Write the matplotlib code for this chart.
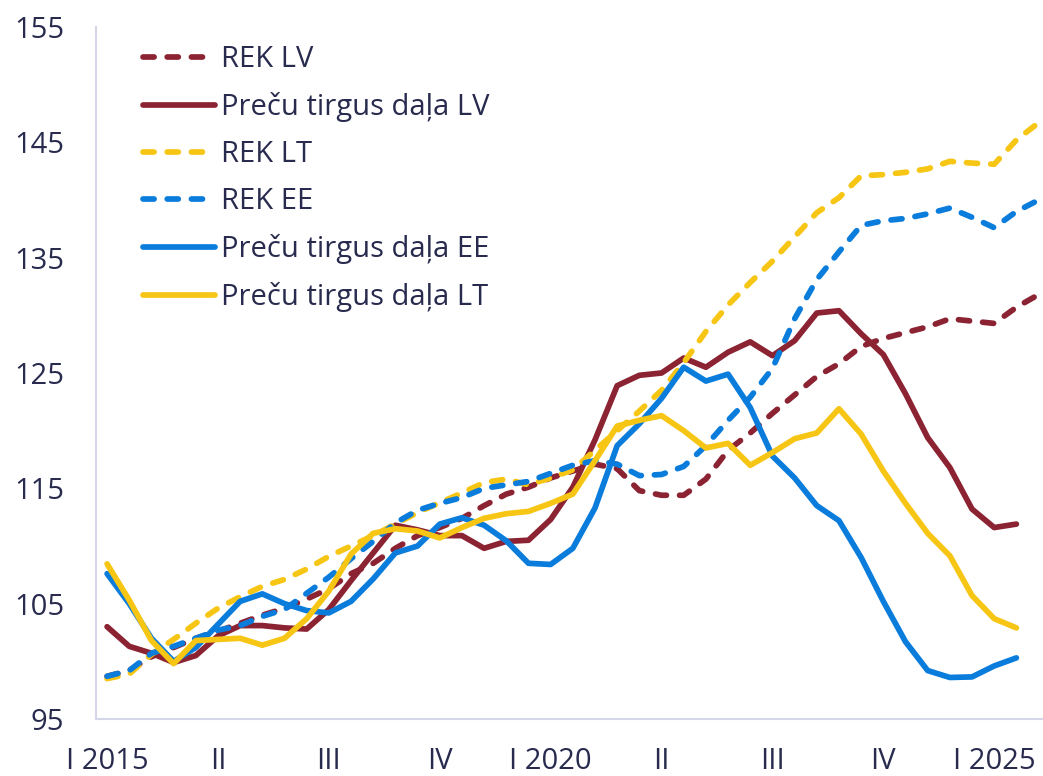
import numpy as np
import matplotlib
matplotlib.use("Agg")
import matplotlib.pyplot as plt

plt.rcParams['font.family'] = ['Open Sans', 'DejaVu Sans']

# ---- data (quarterly, from 2015 Q1) ----
rek_lv = [98.7, 99.2, 100.4, 101.2, 102.0, 102.6, 103.3, 104.0, 104.6, 105.4,
          106.3, 107.6, 108.5, 109.8, 110.9, 111.6, 112.4, 113.5, 114.5, 115.1,
          115.9, 116.5, 117.1, 116.7, 114.8, 114.4, 114.4, 115.8, 118.3, 119.8,
          121.5, 123.1, 124.7, 125.8, 127.3, 128.0, 128.5, 129.0, 129.7, 129.5,
          129.3, 130.7, 131.8]
precu_lv = [103.0, 101.3, 100.7, 99.9, 100.5, 102.2, 103.1, 103.1, 102.9, 102.8,
            104.5, 107.0, 109.4, 111.8, 111.4, 110.9, 110.9, 109.8, 110.4, 110.5,
            112.3, 115.1, 119.2, 123.9, 124.8, 125.0, 126.3, 125.5, 126.8, 127.7,
            126.5, 127.8, 130.2, 130.4, 128.4, 126.6, 123.2, 119.4, 116.8, 113.2,
            111.6, 111.9]
rek_lt = [98.5, 98.9, 100.6, 101.9, 103.3, 104.6, 105.6, 106.5, 107.1, 108.0,
          109.1, 110.0, 110.9, 111.9, 112.9, 113.75, 114.6, 115.5, 115.8, 115.3,
          115.9, 116.6, 118.3, 120.0, 121.7, 123.5, 125.9, 128.6, 130.9, 132.85,
          134.7, 136.8, 138.9, 140.2, 142.1, 142.2, 142.4, 142.7, 143.35, 143.2,
          143.1, 145.2, 146.7]
rek_ee = [98.7, 99.2, 100.7, 101.3, 102.0, 102.7, 103.1, 103.9, 104.5, 105.9,
          107.3, 108.9, 110.4, 112.0, 113.1, 113.7, 114.2, 115.0, 115.3, 115.6,
          116.3, 117.0, 117.4, 117.1, 116.1, 116.2, 116.9, 118.7, 120.9, 122.9,
          125.4, 129.7, 133.1, 135.5, 137.8, 138.2, 138.4, 138.8, 139.3, 138.5,
          137.6, 139.0, 140.0]
precu_ee = [107.6, 105.0, 102.0, 100.0, 101.2, 103.2, 105.2, 105.85, 105.0, 104.4,
            104.2, 105.2, 107.15, 109.4, 110.0, 111.9, 112.45, 111.8, 110.45, 108.5,
            108.4, 109.8, 113.3, 118.7, 120.6, 122.8, 125.5, 124.3, 124.9, 122.0,
            117.8, 115.9, 113.5, 112.2, 109.0, 105.2, 101.7, 99.2, 98.6, 98.65,
            99.6, 100.3]
precu_lt = [108.45, 105.3, 101.8, 99.8, 101.8, 101.9, 102.0, 101.4, 102.0, 103.7,
            106.1, 109.3, 111.1, 111.5, 111.3, 110.7, 111.6, 112.4, 112.8, 113.0,
            113.7, 114.5, 117.4, 120.4, 120.9, 121.3, 120.0, 118.5, 118.9, 117.0,
            118.1, 119.3, 119.8, 121.9, 119.7, 116.5, 113.7, 111.1, 109.15, 105.7,
            103.7, 102.9]

series_labels = ["REK LV", "Preču tirgus daļa LV", "REK LT", "REK EE",
                 "Preču tirgus daļa EE", "Preču tirgus daļa LT"]
x_tick_labels = ["I 2015", "II", "III", "IV", "I 2020", "II", "III", "IV", "I 2025"]
y_ticks = [95, 105, 115, 125, 135, 145, 155]

MAROON = '#8B2333'
YELLOW = '#F7C614'
BLUE = '#0A7CDB'
TEXT = '#282B4E'
SPINE = '#D6D6EA'

W, H = 1043, 776
fig = plt.figure(figsize=(W / 100, H / 100), dpi=100)
ax = fig.add_axes([96 / W, 57 / H, 947 / W, 692 / H])

lw = 4.1
dash = (0, (1.95, 2.3))
specs = [
    (rek_lv, MAROON, dash),
    (precu_lv, MAROON, '-'),
    (rek_lt, YELLOW, dash),
    (rek_ee, BLUE, dash),
    (precu_ee, BLUE, '-'),
    (precu_lt, YELLOW, '-'),
]
for (vals, col, ls), lab in zip(specs, series_labels):
    x = np.arange(len(vals))
    ax.plot(x, vals, color=col, lw=lw, linestyle=ls, label=lab,
            dash_capstyle='round', solid_capstyle='round',
            solid_joinstyle='round', dash_joinstyle='round')

ax.set_xlim(-0.5, 42.2)
ax.set_ylim(95, 155)
ax.set_yticks(y_ticks)
ax.set_xticks(np.arange(0, 5 * len(x_tick_labels), 5))
ax.set_xticklabels(x_tick_labels)
ax.tick_params(axis='both', length=0, labelsize=21, colors=TEXT)
ax.tick_params(axis='y', pad=23)
ax.tick_params(axis='x', pad=20)
for s in ['top', 'right']:
    ax.spines[s].set_visible(False)
for s in ['left', 'bottom']:
    ax.spines[s].set_color(SPINE)
    ax.spines[s].set_linewidth(1.5)

leg = ax.legend(loc='upper left', bbox_to_anchor=(143 / W, 1 - 45 / H),
                bbox_transform=fig.transFigure, frameon=False, fontsize=21,
                handlelength=2.47, handletextpad=0.2, labelspacing=0.62,
                borderpad=0, borderaxespad=0)
for t in leg.get_texts():
    t.set_color(TEXT)

fig.savefig('out.png', dpi=100)
